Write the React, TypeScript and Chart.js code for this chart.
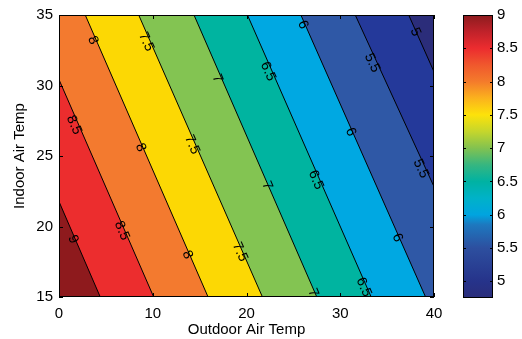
import React, { useEffect, useRef } from "react";
import { Chart, registerables } from "chart.js";

Chart.register(...registerables);

const FONT = '"Liberation Sans", Arial, Helvetica, sans-serif';

// Contour levels (highest to lowest) and where each contour line meets y = 35 and y = 15
const levels = [9, 8.5, 8, 7.5, 7, 6.5, 6, 5.5, 5];
const lineYTop = 35;
const lineYBottom = 15;
const xAtTop = [-8.6, -3.0, 2.8, 8.5, 14.4, 20.1, 25.8, 31.6, 37.3];
const xAtBottom = [4.4, 10.1, 15.9, 21.7, 27.5, 33.3, 39.1, 45.4, 50.7];

// Fill colours of the bands: above 9, 8.5-9, ..., 5-5.5, below 5
const bandColors = [
  "#8e1a1d",
  "#ec2d2e",
  "#f37a2f",
  "#fcd804",
  "#83c452",
  "#00b4a0",
  "#00a8e2",
  "#2f58a6",
  "#24399a",
  "#2b2d7a",
];

// Inline contour labels
const labelText = ["9", "8.5", "8.5", "8", "8", "8", "7.5", "7.5", "7.5", "7", "7", "7", "6.5", "6.5", "6.5", "6", "6", "6", "5.5", "5.5", "5"];
const labelLine = [0, 1, 1, 2, 2, 2, 3, 3, 3, 4, 4, 4, 5, 5, 5, 6, 6, 6, 7, 7, 8];
const labelX = [1.5, 1.6, 6.7, 3.6, 8.7, 13.7, 9.3, 14.2, 19.3, 16.9, 22.2, 27.1, 22.3, 27.4, 32.5, 26.0, 31.1, 36.1, 33.4, 38.6, 38.0];
const labelY = [19.1, 27.2, 19.7, 33.2, 25.6, 18.0, 33.1, 25.8, 18.2, 30.5, 22.9, 15.3, 31.0, 23.3, 15.7, 34.3, 26.7, 19.2, 31.6, 24.1, 33.8];

// Axes
const xTicks = [0, 10, 20, 30, 40];
const yTicks = [15, 20, 25, 30, 35];

// Colour bar
const cbMin = 4.75;
const cbMax = 9;
const cbTicks = [5, 5.5, 6, 6.5, 7, 7.5, 8, 8.5, 9];
const cbStopValues = [4.75, 5.0, 5.5, 5.85, 6.0, 6.25, 6.5, 6.75, 7.0, 7.25, 7.5, 7.75, 8.0, 8.25, 8.5, 8.75, 9.0];
const cbStopColors = [
  "#2a2d7a", "#26338a", "#2d4f9f", "#1d78bf", "#00a4e0", "#00b2c8", "#00b2a2", "#36b680",
  "#82c250", "#c5d62c", "#fde20a", "#fbb21d", "#f47b2b", "#f0582d", "#ec2c2f", "#c0222a", "#8c1b1e",
];

function drawInwardTicks(ctx: CanvasRenderingContext2D, area: any, xs: any, ys: any, xv: number[], yv: number[], len: number) {
  ctx.beginPath();
  xv.forEach((v) => {
    const px = Math.round(xs.getPixelForValue(v)) + 0.5;
    ctx.moveTo(px, area.bottom);
    ctx.lineTo(px, area.bottom - len);
    ctx.moveTo(px, area.top);
    ctx.lineTo(px, area.top + len);
  });
  yv.forEach((v) => {
    const py = Math.round(ys.getPixelForValue(v)) + 0.5;
    ctx.moveTo(area.left, py);
    ctx.lineTo(area.left + len, py);
    ctx.moveTo(area.right, py);
    ctx.lineTo(area.right - len, py);
  });
  ctx.stroke();
}

export default function App() {
  const mainRef = useRef<HTMLCanvasElement>(null);
  const cbRef = useRef<HTMLCanvasElement>(null);

  useEffect(() => {
    const fillPlugin = {
      id: "contourFill",
      beforeDatasetsDraw(chart: any) {
        const { ctx, chartArea: a, scales } = chart;
        const xs = scales.x;
        const ys = scales.y;
        ctx.save();
        ctx.beginPath();
        ctx.rect(a.left, a.top, a.right - a.left, a.bottom - a.top);
        ctx.clip();
        ctx.fillStyle = bandColors[bandColors.length - 1];
        ctx.fillRect(a.left, a.top, a.right - a.left, a.bottom - a.top);
        for (let i = levels.length - 1; i >= 0; i--) {
          const ax = xs.getPixelForValue(xAtTop[i]);
          const ay = ys.getPixelForValue(lineYTop);
          const bx = xs.getPixelForValue(xAtBottom[i]);
          const by = ys.getPixelForValue(lineYBottom);
          const len = Math.hypot(bx - ax, by - ay);
          const dx = (bx - ax) / len;
          const dy = (by - ay) / len;
          const A = [ax - dx * 3000, ay - dy * 3000];
          const B = [bx + dx * 3000, by + dy * 3000];
          ctx.beginPath();
          ctx.moveTo(A[0], A[1]);
          ctx.lineTo(B[0], B[1]);
          ctx.lineTo(B[0] - 8000, B[1]);
          ctx.lineTo(A[0] - 8000, A[1]);
          ctx.closePath();
          ctx.fillStyle = bandColors[i];
          ctx.fill();
        }
        ctx.restore();
      },
      afterDatasetsDraw(chart: any) {
        const { ctx, chartArea: a, scales } = chart;
        const xs = scales.x;
        const ys = scales.y;
        ctx.save();
        ctx.beginPath();
        ctx.rect(a.left, a.top, a.right - a.left, a.bottom - a.top);
        ctx.clip();
        ctx.fillStyle = "#000";
        ctx.font = `14px ${FONT}`;
        ctx.textAlign = "center";
        ctx.textBaseline = "middle";
        labelText.forEach((t, k) => {
          const i = labelLine[k];
          const ax = xs.getPixelForValue(xAtTop[i]);
          const ay = ys.getPixelForValue(lineYTop);
          const bx = xs.getPixelForValue(xAtBottom[i]);
          const by = ys.getPixelForValue(lineYBottom);
          const ang = Math.atan2(by - ay, bx - ax);
          ctx.save();
          ctx.translate(xs.getPixelForValue(labelX[k]), ys.getPixelForValue(labelY[k]));
          ctx.rotate(ang);
          ctx.fillText(t, 0, 0);
          ctx.restore();
        });
        ctx.restore();

        ctx.save();
        ctx.strokeStyle = "#000";
        ctx.lineWidth = 1;
        drawInwardTicks(ctx, a, xs, ys, xTicks, yTicks, 4);
        ctx.strokeRect(Math.round(a.left) + 0.5, Math.round(a.top) + 0.5, Math.round(a.right - a.left) - 1, Math.round(a.bottom - a.top) - 1);
        ctx.restore();
      },
    };

    const lineDatasets = levels.map((lv, i) => ({
      label: String(lv),
      data: [
        { x: xAtTop[i], y: lineYTop },
        { x: xAtBottom[i], y: lineYBottom },
      ],
      showLine: true,
      borderColor: "#000",
      borderWidth: 1,
      pointRadius: 0,
      fill: false,
    }));

    const tickFont = { family: FONT, size: 15 };

    const main = new Chart(mainRef.current as HTMLCanvasElement, {
      type: "scatter",
      data: { datasets: lineDatasets as any },
      options: {
        animation: false,
        responsive: false,
        events: [],
        layout: { padding: { left: 0, top: 15, right: 26, bottom: 0 } },
        plugins: { legend: { display: false }, tooltip: { enabled: false } },
        scales: {
          x: {
            type: "linear",
            min: 0,
            max: 40,
            afterBuildTicks: (s: any) => {
              s.ticks = xTicks.map((v) => ({ value: v }));
            },
            ticks: { color: "#000", font: tickFont, padding: 8, maxRotation: 0, callback: (v: any) => String(v) },
            grid: { display: false, drawTicks: false },
            border: { display: false },
            title: { display: true, text: "Outdoor Air Temp", color: "#000", font: tickFont, padding: { top: 0, bottom: 0 } },
            afterFit: (s: any) => {
              s.height = 42;
            },
          },
          y: {
            type: "linear",
            min: 15,
            max: 35,
            afterBuildTicks: (s: any) => {
              s.ticks = yTicks.map((v) => ({ value: v }));
            },
            ticks: { color: "#000", font: tickFont, padding: 6, callback: (v: any) => String(v) },
            grid: { display: false, drawTicks: false },
            border: { display: false },
            title: { display: true, text: "Indoor Air Temp", color: "#000", font: tickFont, padding: { top: 11, bottom: 0 } },
            afterFit: (s: any) => {
              s.width = 59;
            },
          },
        },
      },
      plugins: [fillPlugin],
    } as any);

    const cbFrame = {
      id: "cbFrame",
      afterDatasetsDraw(chart: any) {
        const { ctx, chartArea: a, scales } = chart;
        const ys = scales.y;
        ctx.save();
        ctx.strokeStyle = "#000";
        ctx.lineWidth = 1;
        ctx.beginPath();
        cbTicks.forEach((v) => {
          const py = Math.round(ys.getPixelForValue(v)) + 0.5;
          ctx.moveTo(a.left, py);
          ctx.lineTo(a.left + 3, py);
          ctx.moveTo(a.right, py);
          ctx.lineTo(a.right - 3, py);
        });
        ctx.stroke();
        ctx.strokeRect(Math.round(a.left) + 0.5, Math.round(a.top) + 0.5, Math.round(a.right - a.left) - 1, Math.round(a.bottom - a.top) - 1);
        ctx.restore();
      },
    };

    const cb = new Chart(cbRef.current as HTMLCanvasElement, {
      type: "bar",
      data: {
        labels: [""],
        datasets: [
          {
            data: [[cbMin, cbMax]],
            backgroundColor: (c: any) => {
              const a = c.chart.chartArea;
              if (!a) return cbStopColors[0];
              const g = c.chart.ctx.createLinearGradient(0, a.bottom, 0, a.top);
              cbStopValues.forEach((v, i) => g.addColorStop((v - cbMin) / (cbMax - cbMin), cbStopColors[i]));
              return g;
            },
            barPercentage: 1,
            categoryPercentage: 1,
            borderWidth: 0,
            borderSkipped: false,
          },
        ],
      },
      options: {
        animation: false,
        responsive: false,
        events: [],
        layout: { padding: { left: 23, top: 15, right: 0, bottom: 41 } },
        plugins: { legend: { display: false }, tooltip: { enabled: false } },
        scales: {
          x: { display: false },
          y: {
            position: "right",
            min: cbMin,
            max: cbMax,
            afterBuildTicks: (s: any) => {
              s.ticks = cbTicks.map((v) => ({ value: v }));
            },
            ticks: { color: "#000", font: tickFont, padding: 4, callback: (v: any) => String(v) },
            grid: { display: false, drawTicks: false },
            border: { display: false },
            afterFit: (s: any) => {
              s.width = 29;
            },
          },
        },
      },
      plugins: [cbFrame],
    } as any);

    return () => {
      main.destroy();
      cb.destroy();
    };
  }, []);

  return (
    <div style={{ position: "fixed", left: 0, top: 0, width: 522, height: 339, background: "#fff" }}>
      <canvas ref={mainRef} width={460} height={339} style={{ position: "absolute", left: 0, top: 0 }} />
      <canvas ref={cbRef} width={82} height={339} style={{ position: "absolute", left: 440, top: 0 }} />
    </div>
  );
}
